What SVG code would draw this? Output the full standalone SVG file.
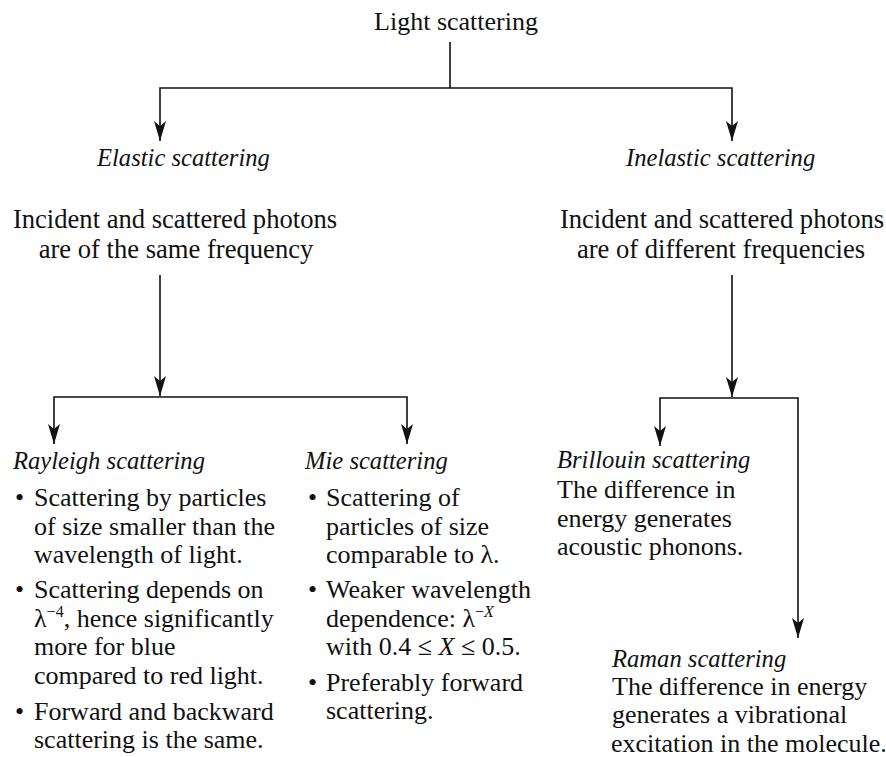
<svg xmlns="http://www.w3.org/2000/svg" width="886" height="757" viewBox="0 0 886 757">
  <defs>
    <marker id="arrow" viewBox="0 0 20 12" refX="20" refY="6" markerWidth="20" markerHeight="12" markerUnits="userSpaceOnUse" orient="auto">
      <path d="M0,0 L20,6 L0,12 L5,6 z" fill="#111"/>
    </marker>
    <style>
      text { font-family: "Liberation Serif", "Times New Roman", serif; font-size: 26px; fill: #111; }
      .it { font-style: italic; }
      .hd { font-style: italic; font-size: 24.6px; }
      .lead { font-size: 26.6px; }
      .mid { text-anchor: middle; }
      .sup { font-size: 16px; }
      .conn path { fill: none; stroke: #111; stroke-width: 1.6; }
    </style>
  </defs>
  <rect width="886" height="757" fill="#fff"/>

  <!-- connectors -->
  <g id="connectors" class="conn">
    <path d="M450,42 V88"/>
    <path d="M450,88 H160 V141" marker-end="url(#arrow)"/>
    <path d="M450,88 H732 V141" marker-end="url(#arrow)"/>
    <path d="M160,275 V396" marker-end="url(#arrow)"/>
    <path d="M160,397 H54 V444" marker-end="url(#arrow)"/>
    <path d="M160,397 H407 V444" marker-end="url(#arrow)"/>
    <path d="M732,275 V397" marker-end="url(#arrow)"/>
    <path d="M732,398 H660 V446" marker-end="url(#arrow)"/>
    <path d="M732,398 H798 V638" marker-end="url(#arrow)"/>
  </g>

  <g id="light">
    <text class="mid" x="456" y="30">Light scattering</text>
  </g>

  <g id="elastic">
    <text class="hd" x="97" y="166">Elastic scattering</text>
    <text class="mid lead" x="175" y="228">Incident and scattered photons</text>
    <text class="mid lead" x="176" y="258">are of the same frequency</text>
  </g>

  <g id="inelastic">
    <text class="hd" x="626" y="166">Inelastic scattering</text>
    <text class="mid lead" x="722" y="228">Incident and scattered photons</text>
    <text class="mid lead" x="721" y="258">are of different frequencies</text>
  </g>

  <g id="rayleigh">
    <text class="hd" x="13" y="469">Rayleigh scattering</text>
    <text x="15" y="506">•</text>
    <text x="34" y="506">Scattering by particles</text>
    <text x="34" y="535">of size smaller than the</text>
    <text x="34" y="563">wavelength of light.</text>
    <text x="15" y="598">•</text>
    <text x="34" y="598">Scattering depends on</text>
    <text x="34" y="627">λ<tspan class="sup" dy="-10">−4</tspan><tspan dy="10">, hence significantly</tspan></text>
    <text x="34" y="655">more for blue</text>
    <text x="34" y="684">compared to red light.</text>
    <text x="15" y="720">•</text>
    <text x="34" y="720">Forward and backward</text>
    <text x="34" y="748">scattering is the same.</text>
  </g>

  <g id="mie">
    <text class="hd" x="305" y="469">Mie scattering</text>
    <text x="308" y="506">•</text>
    <text x="326" y="506">Scattering of</text>
    <text x="326" y="535">particles of size</text>
    <text x="326" y="563">comparable to λ.</text>
    <text x="308" y="598">•</text>
    <text x="326" y="598">Weaker wavelength</text>
    <text x="326" y="627">dependence: λ<tspan class="sup" dy="-10">−</tspan><tspan class="sup it">X</tspan></text>
    <text x="326" y="655">with 0.4 ≤ <tspan class="it">X</tspan> ≤ 0.5.</text>
    <text x="308" y="691">•</text>
    <text x="326" y="691">Preferably forward</text>
    <text x="326" y="719">scattering.</text>
  </g>

  <g id="brillouin">
    <text class="hd" x="557" y="468">Brillouin scattering</text>
    <text x="557" y="498">The difference in</text>
    <text x="557" y="527">energy generates</text>
    <text x="557" y="555">acoustic phonons.</text>
  </g>

  <g id="raman">
    <text class="hd" x="612" y="667">Raman scattering</text>
    <text x="612" y="695">The difference in energy</text>
    <text x="612" y="723">generates a vibrational</text>
    <text x="611" y="752" font-size="25.6">excitation in the molecule.</text>
  </g>
</svg>
